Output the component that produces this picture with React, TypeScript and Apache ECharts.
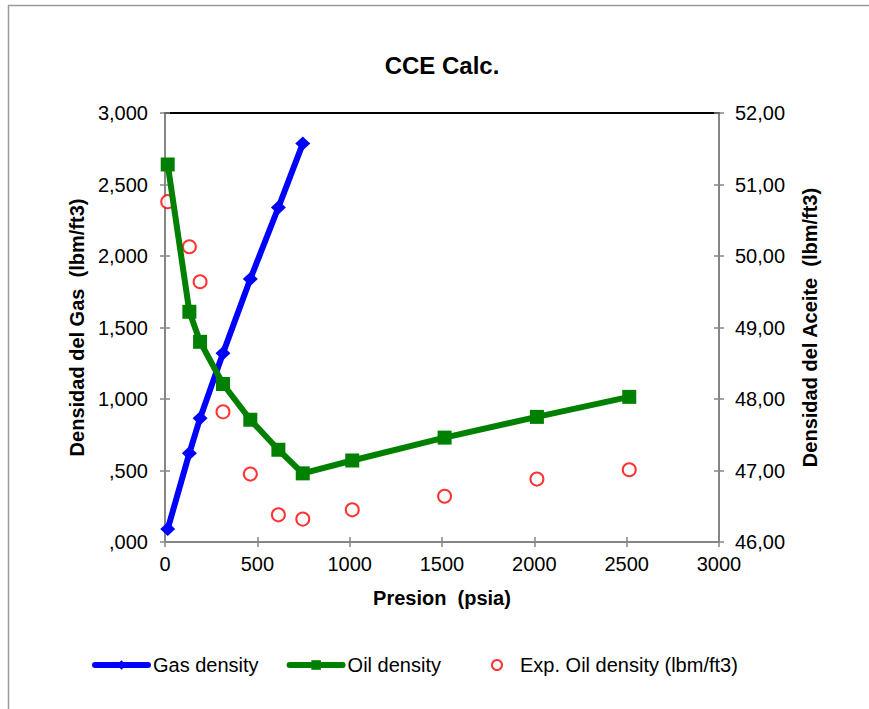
import React, { useEffect, useRef } from "react";
import * as echarts from "echarts";

// Pressure steps of the constant composition expansion (psia)
const pressure = [14.7, 132, 190, 314, 462, 614, 746, 1014, 1514, 2014, 2514];
// Calculated gas density, only below the saturation pressure (lbm/ft3)
const gasDensity = [0.091, 0.621, 0.866, 1.32, 1.839, 2.339, 2.786];
// Calculated oil density (lbm/ft3)
const oilDensity = [51.28, 49.22, 48.8, 48.21, 47.71, 47.29, 46.96, 47.14, 47.46, 47.75, 48.03];
// Laboratory oil density (lbm/ft3)
const expOilDensity = [50.76, 50.13, 49.64, 47.82, 46.95, 46.38, 46.32, 46.45, 46.64, 46.88, 47.01];

const FONT = "'Liberation Sans', Arial, sans-serif";

const gasFmt = (v: number) => {
  const s = v.toFixed(3).replace(".", ",");
  return s.startsWith("0,") ? s.slice(1) : s;
};
const oilFmt = (v: number) => v.toFixed(2).replace(".", ",");
const pressFmt = (v: number) => String(Math.round(v));

export default function App() {
  const ref = useRef<HTMLDivElement>(null);

  useEffect(() => {
    if (!ref.current) return;
    const chart = echarts.init(ref.current, null, { renderer: "svg" });

    const gasPoints = gasDensity.map((g, i) => [pressure[i], g]);
    const oilPoints = oilDensity.map((o, i) => [pressure[i], o]);
    const expPoints = expOilDensity.map((o, i) => [pressure[i], o]);

    const axisGray = "#868686";
    const tickStyle = { color: axisGray, width: 1.5 };
    const nameStyle = { fontFamily: FONT, fontSize: 20, fontWeight: "bold", color: "#000" };
    const labelStyle = { fontFamily: FONT, fontSize: 20, color: "#000" };
    const legendText = { fontFamily: FONT, fontSize: 20, color: "#000" };

    chart.setOption({
      animation: false,
      backgroundColor: "#ffffff",
      textStyle: { fontFamily: FONT },
      title: {
        text: "CCE Calc.",
        left: 442,
        top: 53,
        textAlign: "center",
        padding: 0,
        textStyle: { fontFamily: FONT, fontSize: 24, fontWeight: "bold", color: "#000" },
      },
      graphic: [
        {
          type: "rect",
          shape: { x: 8.5, y: 5.5, width: 1000, height: 1000 },
          style: { fill: "none", stroke: "#9a9a9a", lineWidth: 1.5 },
          silent: true,
        },
      ],
      legend: [
        {
          left: 92,
          top: 655,
          padding: 0,
          itemWidth: 53,
          itemHeight: 12,
          itemGap: 28,
          lineStyle: { width: 6, cap: "round" },
          textStyle: legendText,
          data: ["Gas density", "Oil density"],
        },
        {
          left: 491,
          top: 655,
          padding: 0,
          itemWidth: 36,
          itemHeight: 10,
          textStyle: legendText,
          data: ["Exp. Oil density (lbm/ft3)"],
        },
      ],
      grid: { left: 165, right: 150, top: 113, bottom: 167 },
      xAxis: [
        {
          type: "value",
          min: 0,
          max: 3000,
          interval: 500,
          position: "bottom",
          name: "Presion  (psia)",
          nameLocation: "middle",
          nameGap: 46,
          nameTextStyle: nameStyle,
          axisLine: { show: true, onZero: false, lineStyle: { color: axisGray, width: 2 } },
          axisTick: { show: true, length: 5, lineStyle: tickStyle },
          axisLabel: { ...labelStyle, margin: 12, formatter: pressFmt },
          splitLine: { show: false },
        },
        {
          // inner half of the crossing tick marks
          type: "value",
          min: 0,
          max: 3000,
          interval: 500,
          position: "bottom",
          axisLine: { show: false, onZero: false },
          axisTick: { show: true, inside: true, length: 5, lineStyle: tickStyle },
          axisLabel: { show: false },
          splitLine: { show: false },
        },
        {
          // top frame line of the plot area
          type: "value",
          min: 0,
          max: 3000,
          interval: 500,
          position: "top",
          axisLine: { show: true, onZero: false, lineStyle: { color: "#000", width: 2 } },
          axisTick: { show: false },
          axisLabel: { show: false },
          splitLine: { show: false },
        },
      ],
      yAxis: [
        {
          type: "value",
          min: 0,
          max: 3,
          interval: 0.5,
          position: "left",
          name: "Densidad del Gas  (lbm/ft3)",
          nameLocation: "middle",
          nameRotate: 90,
          nameGap: 76,
          nameTextStyle: nameStyle,
          axisLine: { show: true, onZero: false, lineStyle: { color: axisGray, width: 2 } },
          axisTick: { show: true, length: 5, lineStyle: tickStyle },
          axisLabel: { ...labelStyle, margin: 17, formatter: gasFmt },
          splitLine: { show: false },
        },
        {
          type: "value",
          min: 46,
          max: 52,
          interval: 1,
          position: "right",
          name: "Densidad del Aceite  (lbm/ft3)",
          nameLocation: "middle",
          nameRotate: 90,
          nameGap: 81,
          nameTextStyle: nameStyle,
          axisLine: { show: true, onZero: false, lineStyle: { color: axisGray, width: 2 } },
          axisTick: { show: true, length: 5, lineStyle: tickStyle },
          axisLabel: { ...labelStyle, margin: 16, formatter: oilFmt },
          splitLine: { show: false },
        },
        {
          type: "value",
          min: 0,
          max: 3,
          interval: 0.5,
          position: "left",
          axisLine: { show: false, onZero: false },
          axisTick: { show: true, inside: true, length: 5, lineStyle: tickStyle },
          axisLabel: { show: false },
          splitLine: { show: false },
        },
        {
          type: "value",
          min: 46,
          max: 52,
          interval: 1,
          position: "right",
          axisLine: { show: false, onZero: false },
          axisTick: { show: true, inside: true, length: 5, lineStyle: tickStyle },
          axisLabel: { show: false },
          splitLine: { show: false },
        },
      ],
      series: [
        {
          name: "Gas density",
          type: "line",
          xAxisIndex: 0,
          yAxisIndex: 0,
          data: gasPoints,
          symbol: "diamond",
          symbolSize: [15, 14],
          lineStyle: { color: "#0000ff", width: 6 },
          itemStyle: { color: "#0000ff" },
        },
        {
          name: "Oil density",
          type: "line",
          xAxisIndex: 0,
          yAxisIndex: 1,
          data: oilPoints,
          symbol: "rect",
          symbolSize: 14,
          lineStyle: { color: "#008000", width: 6 },
          itemStyle: { color: "#008000" },
        },
        {
          name: "Exp. Oil density (lbm/ft3)",
          type: "scatter",
          xAxisIndex: 0,
          yAxisIndex: 1,
          data: expPoints,
          symbol: "emptyCircle",
          symbolSize: 13,
          itemStyle: { color: "#ff0000", borderColor: "#ff0000", borderWidth: 1.5 },
        },
      ],
    });

    return () => chart.dispose();
  }, []);

  return (
    <div
      ref={ref}
      style={{ position: "absolute", left: 0, top: 0, width: 869, height: 709 }}
    />
  );
}
